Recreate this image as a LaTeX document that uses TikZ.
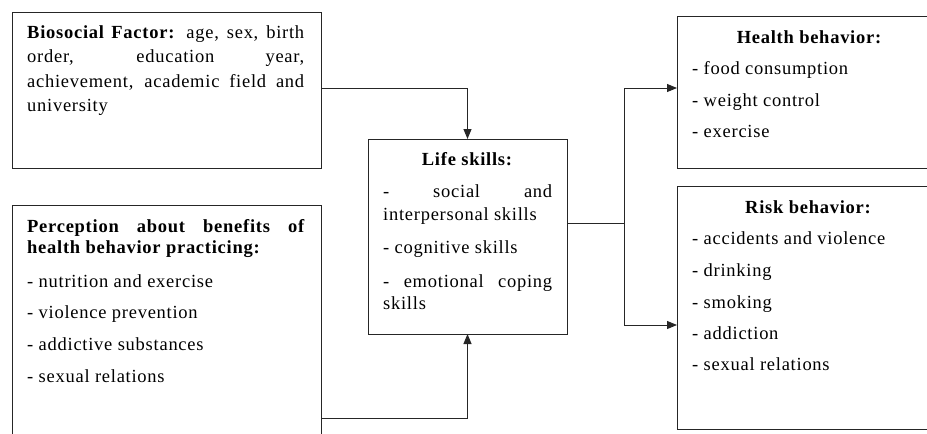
\documentclass[tikz,border=0pt]{standalone}
\usepackage{fontspec}
\setmainfont[LetterSpace=4]{Liberation Serif}
\usetikzlibrary{arrows.meta,calc}
\begin{document}
\begin{tikzpicture}[x=1pt,y=-1pt,
  box/.style={draw=black!85,line width=1pt,rectangle,inner sep=0pt,outer sep=0pt,anchor=north west},
  txt/.style={anchor=base west,inner sep=0pt,font=\fontsize{18.5}{22}\selectfont},
  hd/.style={anchor=base,inner sep=0pt,font=\fontsize{18.5}{22}\selectfont\bfseries},
  arr/.style={draw=black!85,line width=1pt,-{Triangle[length=10pt,width=8pt]}},
  ln/.style={draw=black!85,line width=1pt}]
\useasboundingbox (0,0) rectangle (927,434);
\begin{scope}
\clip (0,0) rectangle (927,434);
% boxes
\node[box,minimum width=309pt,minimum height=156pt] (bio) at (12,12) {};
\node[box,minimum width=309pt,minimum height=260pt] (perc) at (12,205) {};
\node[box,minimum width=199pt,minimum height=195pt] (life) at (368,139) {};
\node[box,minimum width=263pt,minimum height=152pt] (health) at (677,16) {};
\node[box,minimum width=263pt,minimum height=243pt] (risk) at (677,186) {};
% biosocial text
\node[txt] (b1) at (27,38) {\makebox[277pt][s]{\textbf{Biosocial Factor:} age, sex, birth}};
\node[txt] (b2) at (27,62) {\makebox[277pt][s]{order, education year,}};
\node[txt] (b3) at (27,87) {\makebox[277pt][s]{achievement, academic field and}};
\node[txt] (b4) at (27,111) {university};
% perception text
\node[txt] (p1) at (27,232) {\makebox[278pt][s]{\textbf{Perception about benefits of}}};
\node[txt] (p2) at (27,253) {\textbf{health behavior practicing:}};
\node[txt] (p3) at (27,287) {- nutrition and exercise};
\node[txt] (p4) at (27,318) {- violence prevention};
\node[txt] (p5) at (27,350) {- addictive substances};
\node[txt] (p6) at (27,382) {- sexual relations};
% life skills text
\node[hd] (l0) at (467,165) {Life skills:};
\node[txt] (l1) at (383,197) {\makebox[169pt][s]{- social and}};
\node[txt] (l2) at (383,220) {interpersonal skills};
\node[txt] (l3) at (383,253) {- cognitive skills};
\node[txt] (l4) at (383,287) {\makebox[169pt][s]{- emotional coping}};
\node[txt] (l5) at (383,309) {skills};
% health text
\node[hd] (h0) at (809,43) {Health behavior:};
\node[txt] (h1) at (692,74) {- food consumption};
\node[txt] (h2) at (692,106) {- weight control};
\node[txt] (h3) at (692,137) {- exercise};
% risk text
\node[hd] (r0) at (808,213) {Risk behavior:};
\node[txt] (r1) at (692,244) {- accidents and violence};
\node[txt] (r2) at (692,276) {- drinking};
\node[txt] (r3) at (692,308) {- smoking};
\node[txt] (r4) at (692,339) {- addiction};
\node[txt] (r5) at (692,370) {- sexual relations};
% connectors
\coordinate (bo) at (321,88);
\coordinate (po) at (321,418);
\coordinate (split) at (624,223);
\coordinate (ha) at (677,88);
\coordinate (ra) at (677,325);
\draw[arr] (bo) -| (life.north);
\draw[arr] (po) -| (life.south);
\draw[ln] (life.east |- split) -- (split);
\draw[arr] (split) |- (ha);
\draw[arr] (split) |- (ra);
\end{scope}
\end{tikzpicture}
\end{document}
